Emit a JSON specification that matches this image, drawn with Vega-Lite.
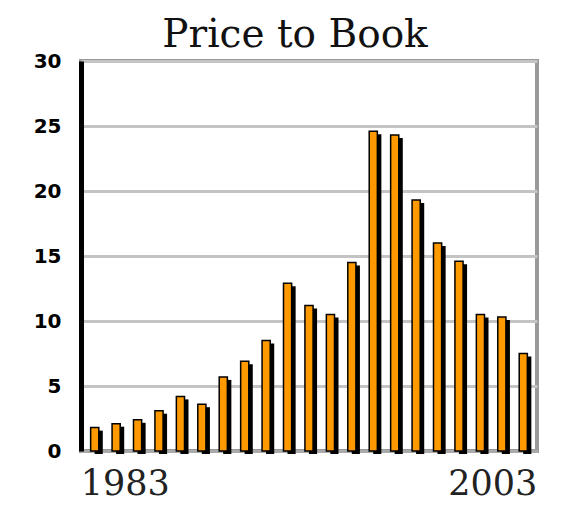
{
  "$schema": "https://vega.github.io/schema/vega-lite/v6.json",
  "autosize": {"type": "none"},
  "padding": {"left": 81, "top": 61, "right": 34, "bottom": 57},
  "width": 456,
  "height": 390,
  "background": "white",
  "title": {
    "text": "Price to Book",
    "font": "DejaVu Serif",
    "fontSize": 39,
    "fontWeight": "normal",
    "color": "#111111",
    "anchor": "middle",
    "dx": -14,
    "offset": -4
  },
  "config": {
    "view": {"stroke": "#999999", "strokeWidth": 4},
    "axis": {"grid": false}
  },
  "data": {
    "values": [
      {"year": "1983", "pb": 1.8},
      {"year": "1984", "pb": 2.1},
      {"year": "1985", "pb": 2.4},
      {"year": "1986", "pb": 3.1},
      {"year": "1987", "pb": 4.2},
      {"year": "1988", "pb": 3.6},
      {"year": "1989", "pb": 5.7},
      {"year": "1990", "pb": 6.9},
      {"year": "1991", "pb": 8.5},
      {"year": "1992", "pb": 12.9},
      {"year": "1993", "pb": 11.2},
      {"year": "1994", "pb": 10.5},
      {"year": "1995", "pb": 14.5},
      {"year": "1996", "pb": 24.6},
      {"year": "1997", "pb": 24.3},
      {"year": "1998", "pb": 19.3},
      {"year": "1999", "pb": 16.0},
      {"year": "2000", "pb": 14.6},
      {"year": "2001", "pb": 10.5},
      {"year": "2002", "pb": 10.3},
      {"year": "2003", "pb": 7.5}
    ]
  },
  "encoding": {
    "x": {
      "field": "year",
      "type": "ordinal",
      "scale": {"paddingInner": 0.62, "paddingOuter": 0.45},
      "axis": {
        "title": null,
        "ticks": false,
        "domainColor": "#aaaaaa",
        "domainWidth": 3,
        "labelAngle": 0,
        "labelFont": "DejaVu Serif",
        "labelFontSize": 35,
        "labelColor": "#222222",
        "labelPadding": 15,
        "labelExpr": "datum.value == '1983' || datum.value == '2003' ? datum.value : ''",
        "labelAlign": {"expr": "datum.value == '1983' ? 'left' : 'right'"},
        "labelOffset": {"expr": "datum.value == '1983' ? -14 : 14"}
      }
    },
    "y": {
      "field": "pb",
      "type": "quantitative",
      "scale": {"domain": [0, 30], "nice": false},
      "axis": {
        "title": null,
        "values": [0, 5, 10, 15, 20, 25, 30],
        "grid": true,
        "gridColor": "#c4c4c4",
        "gridWidth": 3,
        "ticks": false,
        "domainColor": "#000000",
        "domainWidth": 5,
        "labelFont": "DejaVu Sans",
        "labelFontWeight": "bold",
        "labelFontSize": 20,
        "labelColor": "#000000",
        "labelPadding": 20
      }
    }
  },
  "layer": [
    {
      "mark": {"type": "bar", "color": "#000000", "xOffset": 4, "yOffset": 3, "y2Offset": 3}
    },
    {
      "mark": {"type": "bar", "color": "#FF9900", "stroke": "#000000", "strokeWidth": 1.5}
    }
  ]
}
